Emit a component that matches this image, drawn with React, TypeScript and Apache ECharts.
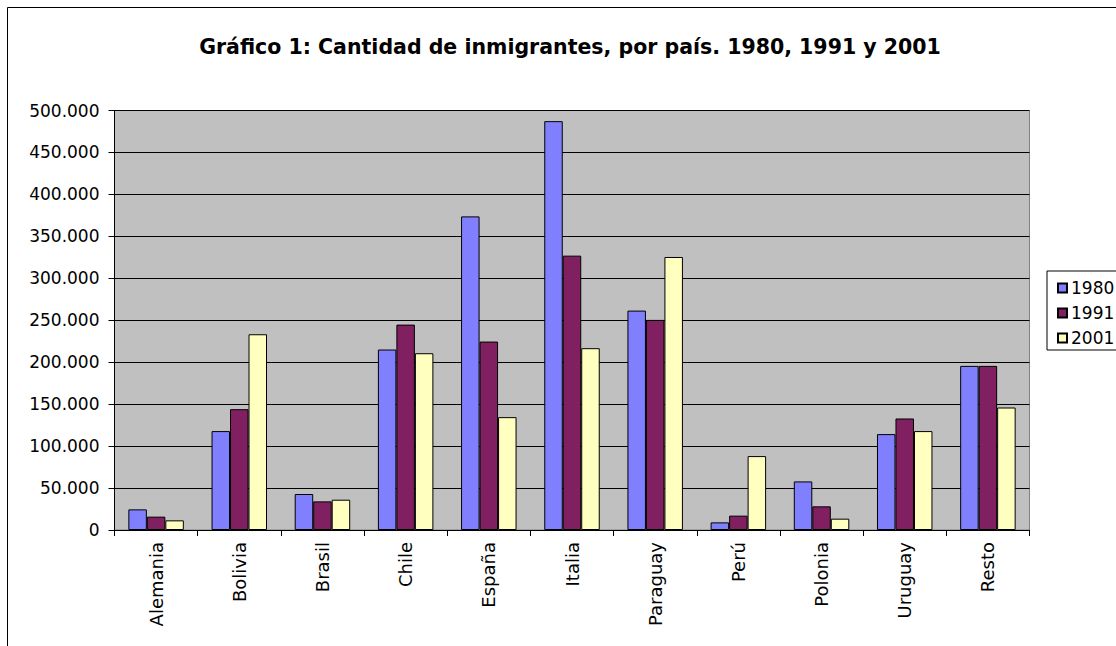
import React, { useEffect, useRef } from "react";
import * as echarts from "echarts";

const categories = ["Alemania", "Bolivia", "Brasil", "Chile", "España", "Italia", "Paraguay", "Perú", "Polonia", "Uruguay", "Resto"];
const seriesNames = ["1980", "1991", "2001"];
const v1980 = [24600, 117900, 42900, 215100, 373800, 487300, 261500, 9100, 57900, 114300, 195600];
const v1991 = [15900, 144000, 34100, 244800, 224600, 327000, 250400, 17100, 28200, 132900, 195600];
const v2001 = [11500, 233300, 36100, 210700, 134500, 216700, 325400, 88100, 13500, 117900, 146000];
const seriesColors = ["#8080FF", "#802060", "#FFFFC0"];
const titleText = "Gráfico 1: Cantidad de inmigrantes, por país. 1980, 1991 y 2001";

const FONT = "'DejaVu Sans', 'Liberation Sans', Arial, sans-serif";

function fmt(v: number): string {
  return String(v).replace(/\B(?=(\d{3})+(?!\d))/g, ".");
}

export default function App() {
  const ref = useRef<HTMLDivElement>(null);
  useEffect(() => {
    if (!ref.current) return;
    const chart = echarts.init(ref.current, undefined, { renderer: "svg" });
    const data = [v1980, v1991, v2001];
    chart.setOption({
      animation: false,
      backgroundColor: "#FFFFFF",
      textStyle: { fontFamily: FONT },
      title: {
        text: titleText,
        left: 565,
        textAlign: "center",
        top: 31,
        textStyle: { fontFamily: FONT, fontSize: 20.5, fontWeight: "bold", color: "#000" },
      },
      legend: {
        orient: "vertical",
        left: 1047,
        top: 271,
        padding: [8, 60, 3, 10],
        borderColor: "#000",
        borderWidth: 1,
        itemGap: 7,
        itemWidth: 9,
        itemHeight: 9,
        icon: "rect",
        textStyle: { fontFamily: FONT, fontSize: 17, color: "#000", lineHeight: 18, padding: [0, 0, 0, -1] },
        data: seriesNames,
      },
      graphic: [
        {
          type: "rect",
          shape: { x: 7.5, y: 7.5, width: 1300, height: 900 },
          style: { fill: "none", stroke: "#000", lineWidth: 1 },
          silent: true,
          z: -1,
        },
      ],
      grid: {
        left: 114.5,
        right: 86.5,
        top: 110.5,
        bottom: 116,
        show: true,
        backgroundColor: "#C0C0C0",
        borderColor: "#808080",
        borderWidth: 1,
      },
      xAxis: {
        type: "category",
        data: categories,
        axisLine: { lineStyle: { color: "#000", width: 1 } },
        axisTick: { show: true, length: 6, lineStyle: { color: "#000" } },
        axisLabel: {
          rotate: 90,
          margin: 12,
          fontFamily: FONT,
          fontSize: 18,
          color: "#000",
          interval: 0,
        },
      },
      yAxis: {
        type: "value",
        min: 0,
        max: 500000,
        interval: 50000,
        axisLine: { show: true, lineStyle: { color: "#000", width: 1 } },
        axisTick: { show: true, length: 6, lineStyle: { color: "#000" } },
        axisLabel: {
          margin: 15,
          fontFamily: FONT,
          fontSize: 17,
          color: "#000",
          formatter: (v: number) => fmt(v),
        },
        splitLine: { show: true, lineStyle: { color: "#000", width: 1 } },
      },
      series: seriesNames.map((name, i) => ({
        name,
        type: "bar",
        data: data[i],
        barGap: "0%",
        barCategoryGap: "33.3%",
        itemStyle: { color: seriesColors[i], borderColor: "#000", borderWidth: 1 },
      })),
    });
    return () => chart.dispose();
  }, []);
  return <div ref={ref} style={{ position: "absolute", left: 0, top: 0, width: 1116, height: 646 }} />;
}
